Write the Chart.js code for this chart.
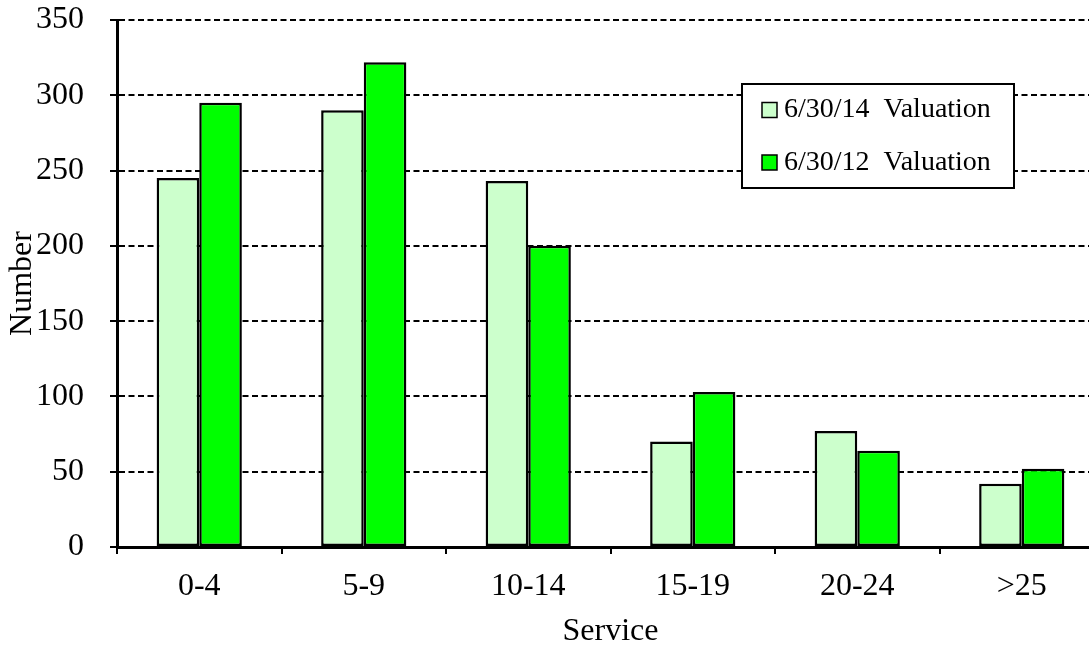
<!DOCTYPE html>
<html>
<head>
<meta charset="utf-8">
<script src="https://cdn.jsdelivr.net/npm/chart.js@4/dist/chart.umd.min.js"></script>
<style>
  html, body { margin: 0; padding: 0; overflow: hidden; background: #ffffff; }
  #wrap { width: 1089px; height: 651px; overflow: hidden; position: relative; }
  canvas { display: block; }
</style>
</head>
<body>
<div id="wrap"><canvas id="chart" width="1104" height="651"></canvas></div>
<script>
// Years-of-service groups
const serviceGroups = ['0-4', '5-9', '10-14', '15-19', '20-24', '>25'];
// Member counts per group
const valuation2014 = [245, 290, 243, 70, 77, 42];
const valuation2012 = [295, 322, 200, 103, 64, 52];
// Y axis range
const yMin = 0;
const yMax = 350;
const yStep = 50;

const serif = "'Liberation Serif', 'Times New Roman', serif";

// Boxed legend drawn inside the plot area
const boxedLegend = {
  id: 'boxedLegend',
  afterDraw(chart) {
    const ctx = chart.ctx;
    const x0 = 742, y0 = 84, w = 272, h = 104;
    ctx.save();
    ctx.fillStyle = '#ffffff';
    ctx.fillRect(x0, y0, w, h);
    ctx.lineWidth = 2;
    ctx.strokeStyle = '#000000';
    ctx.strokeRect(x0, y0, w, h);
    const rows = [110, 162.5];
    chart.data.datasets.forEach((ds, i) => {
      const cy = rows[i];
      ctx.fillStyle = ds.backgroundColor;
      ctx.fillRect(762, cy - 7.5, 15, 15);
      ctx.lineWidth = 1.5;
      ctx.strokeStyle = '#000000';
      ctx.strokeRect(762, cy - 7.5, 15, 15);
      ctx.fillStyle = '#000000';
      ctx.font = "28px " + serif;
      ctx.textAlign = 'left';
      ctx.textBaseline = 'middle';
      ctx.fillText(ds.label, 784, cy);
    });
    ctx.restore();
  }
};

new Chart(document.getElementById('chart'), {
  type: 'bar',
  data: {
    labels: serviceGroups,
    datasets: [
      {
        label: '6/30/14  Valuation',
        data: valuation2014,
        backgroundColor: '#CCFFCC',
        borderColor: '#000000',
        borderWidth: 2.5,
        borderSkipped: false,
        barPercentage: 1,
        categoryPercentage: 0.518
      },
      {
        label: '6/30/12  Valuation',
        data: valuation2012,
        backgroundColor: '#00FF00',
        borderColor: '#000000',
        borderWidth: 2.5,
        borderSkipped: false,
        barPercentage: 1,
        categoryPercentage: 0.518
      }
    ]
  },
  options: {
    responsive: false,
    animation: false,
    devicePixelRatio: 1,
    layout: { padding: { top: 20, left: 0, right: 0, bottom: 0 } },
    plugins: {
      legend: { display: false },
      tooltip: { enabled: false }
    },
    scales: {
      x: {
        offset: true,
        grid: {
          offset: true,
          drawOnChartArea: false,
          drawTicks: true,
          tickLength: 7,
          color: '#000000',
          lineWidth: 2
        },
        border: { display: true, color: '#000000', width: 3 },
        ticks: {
          color: '#000000',
          font: { family: serif, size: 32 },
          padding: 13,
          maxRotation: 0,
          autoSkip: false
        },
        title: {
          display: true,
          text: 'Service',
          color: '#000000',
          font: { family: serif, size: 32 },
          padding: { top: 0, bottom: 0 }
        },
        afterFit(scale) {
          scale.height = 104;
          scale.paddingLeft = 0;
          scale.paddingRight = 0;
        }
      },
      y: {
        min: yMin,
        max: yMax,
        grid: {
          color: '#000000',
          lineWidth: 2,
          drawTicks: true,
          tickLength: 7,
          tickBorderDash: [],
          tickWidth: 2
        },
        border: { display: true, color: '#000000', width: 3, dash: [6, 3.5] },
        ticks: {
          stepSize: yStep,
          color: '#000000',
          font: { family: serif, size: 32 },
          padding: 26
        },
        title: {
          display: true,
          text: 'Number',
          color: '#000000',
          font: { family: serif, size: 32 },
          padding: { top: 3, bottom: 0 }
        },
        afterFit(scale) {
          scale.width = 117;
          scale.paddingTop = 0;
          scale.paddingBottom = 0;
        }
      }
    }
  },
  plugins: [boxedLegend]
});
</script>
</body>
</html>
